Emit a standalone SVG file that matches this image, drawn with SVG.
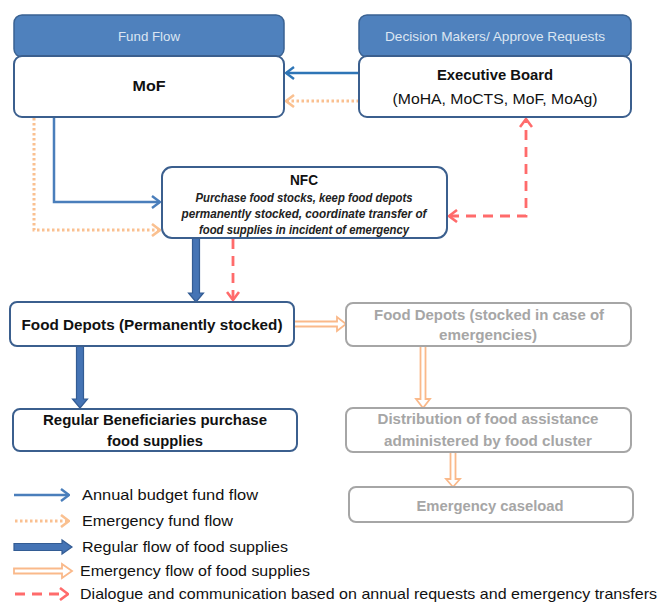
<svg xmlns="http://www.w3.org/2000/svg" width="659" height="602" viewBox="0 0 659 602">
  <style>
    text { font-family: "Liberation Sans", Arial, sans-serif; }
    .hdr { fill: #4F81BD; stroke: #3A6292; stroke-width: 1.5; }
    .hdrt { fill: #DCE6F2; font-size: 13px; text-anchor: middle; }
    .box { fill: #FFFFFF; stroke: #3B5F8E; stroke-width: 2; }
    .gbox { fill: #FFFFFF; stroke: #A6A6A6; stroke-width: 2; }
    .bt { fill: #111111; font-size: 15px; font-weight: bold; text-anchor: middle; }
    .rt { fill: #111111; font-size: 15px; text-anchor: middle; }
    .it { fill: #222222; font-size: 12.5px; font-weight: bold; font-style: italic; text-anchor: middle; }
    .gt { fill: #A6A6A6; font-size: 15px; font-weight: bold; text-anchor: middle; }
    .lt { fill: #111111; font-size: 15px; }
    .blue { fill: none; stroke: #4A7EBB; stroke-width: 2.5; }
    .blue2 { fill: none; stroke: #2E75B6; stroke-width: 2.5; }
    .dot { fill: none; stroke: #FAC090; stroke-width: 3; stroke-dasharray: 2.5 2.5; }
    .dash { fill: none; stroke: #FF6B6B; stroke-width: 2.8; stroke-dasharray: 10 7; }
    .thick { fill: #4574B5; stroke: #335C94; stroke-width: 1.2; }
    .hollow { fill: #FFFFFF; stroke: #FAB98A; stroke-width: 1.8; stroke-linejoin: miter; }
  </style>
  <defs>
    <marker id="chevBlue" viewBox="0 0 10 14" refX="9" refY="7" markerWidth="10" markerHeight="14" markerUnits="userSpaceOnUse" orient="auto">
      <path d="M1,1 L9,7 L1,13" fill="none" stroke="#4A7EBB" stroke-width="2.4"/>
    </marker>
    <marker id="chevBlue2" viewBox="0 0 10 14" refX="9" refY="7" markerWidth="10" markerHeight="14" markerUnits="userSpaceOnUse" orient="auto">
      <path d="M1,1 L9,7 L1,13" fill="none" stroke="#2E75B6" stroke-width="2.4"/>
    </marker>
    <marker id="chevOrange" viewBox="0 0 10 14" refX="9" refY="7" markerWidth="10" markerHeight="14" markerUnits="userSpaceOnUse" orient="auto">
      <path d="M1,1 L9,7 L1,13" fill="none" stroke="#FAC090" stroke-width="2.6"/>
    </marker>
    <marker id="chevRed" viewBox="0 0 10 14" refX="9" refY="7" markerWidth="10" markerHeight="14" markerUnits="userSpaceOnUse" orient="auto-start-reverse">
      <path d="M1,1 L9,7 L1,13" fill="none" stroke="#FF6B6B" stroke-width="2.6"/>
    </marker>
  </defs>

  <!-- connectors -->
  <g id="connectors">
    <path class="blue2" d="M359,73 H286" marker-end="url(#chevBlue2)"/>
    <path class="dot" d="M359,101 H286" marker-end="url(#chevOrange)"/>
    <path class="blue" d="M54,117 V202 H160" marker-end="url(#chevBlue)"/>
    <path class="dot" d="M34,118 V230 H160" marker-end="url(#chevOrange)"/>
    <path class="dash" d="M449,216 H526 V119" marker-start="url(#chevRed)" marker-end="url(#chevRed)"/>
    <path class="dash" d="M233,239 V300" marker-end="url(#chevRed)"/>
    <!-- regular supply flows -->
    <polygon class="thick" points="192.5,238 199.5,238 199.5,293 203.5,293 196,302 188.5,293 192.5,293"/>
    <polygon class="thick" points="76.5,346 83.5,346 83.5,399 87.5,399 80,408 72.5,399 76.5,399"/>
    <!-- emergency supply flows -->
    <polygon class="hollow" points="294,321.5 337,321.5 337,317 346,324 337,331 337,326.5 294,326.5"/>
    <polygon class="hollow" points="420.5,346 425.5,346 425.5,399 430,399 423,408 416,399 420.5,399"/>
    <polygon class="hollow" points="450.5,452 455.5,452 455.5,479 460,479 453,487 446,479 450.5,479"/>
  </g>

  <g id="mof">
    <rect class="hdr" x="14" y="15" width="270" height="42" rx="8"/>
    <text class="hdrt" x="149" y="41" textLength="62" lengthAdjust="spacingAndGlyphs">Fund Flow</text>
    <rect class="box" x="14" y="56" width="270" height="61" rx="8"/>
    <text class="bt" x="149" y="91" textLength="33" lengthAdjust="spacingAndGlyphs">MoF</text>
  </g>

  <g id="executive-board">
    <rect class="hdr" x="359" y="15" width="272" height="42" rx="8"/>
    <text class="hdrt" x="495" y="41" textLength="220" lengthAdjust="spacingAndGlyphs">Decision Makers/ Approve Requests</text>
    <rect class="box" x="359" y="56" width="272" height="61" rx="8"/>
    <text class="bt" x="495" y="80" textLength="116" lengthAdjust="spacingAndGlyphs">Executive Board</text>
    <text class="rt" x="495" y="104" textLength="205" lengthAdjust="spacingAndGlyphs">(MoHA, MoCTS, MoF, MoAg)</text>
  </g>

  <g id="nfc">
    <rect class="box" x="162" y="167" width="285" height="71" rx="10"/>
    <text class="bt" x="304" y="185" textLength="28" lengthAdjust="spacingAndGlyphs">NFC</text>
    <text class="it" x="304" y="202" textLength="217" lengthAdjust="spacingAndGlyphs">Purchase food stocks, keep food depots</text>
    <text class="it" x="304" y="218" textLength="245" lengthAdjust="spacingAndGlyphs">permanently stocked, coordinate transfer of</text>
    <text class="it" x="304" y="234" textLength="210" lengthAdjust="spacingAndGlyphs">food supplies in incident of emergency</text>
  </g>

  <g id="food-depots-permanent">
    <rect class="box" x="10" y="302" width="284" height="44" rx="7"/>
    <text class="bt" x="152" y="330" textLength="261" lengthAdjust="spacingAndGlyphs">Food Depots (Permanently stocked)</text>
  </g>

  <g id="regular-beneficiaries">
    <rect class="box" x="13" y="409" width="284" height="42" rx="7"/>
    <text class="bt" x="155" y="425" textLength="224" lengthAdjust="spacingAndGlyphs">Regular Beneficiaries purchase</text>
    <text class="bt" x="155" y="446" textLength="96" lengthAdjust="spacingAndGlyphs">food supplies</text>
  </g>

  <g id="food-depots-emergency">
    <rect class="gbox" x="346" y="303" width="285" height="43" rx="7"/>
    <text class="gt" x="489" y="320" textLength="230" lengthAdjust="spacingAndGlyphs">Food Depots (stocked in case of</text>
    <text class="gt" x="488" y="340" textLength="98" lengthAdjust="spacingAndGlyphs">emergencies)</text>
  </g>

  <g id="distribution">
    <rect class="gbox" x="346" y="408" width="285" height="44" rx="7"/>
    <text class="gt" x="488" y="424" textLength="221" lengthAdjust="spacingAndGlyphs">Distribution of food assistance</text>
    <text class="gt" x="488" y="446" textLength="208" lengthAdjust="spacingAndGlyphs">administered by food cluster</text>
  </g>

  <g id="emergency-caseload">
    <rect class="gbox" x="349" y="487" width="284" height="35" rx="7"/>
    <text class="gt" x="490" y="511" textLength="147" lengthAdjust="spacingAndGlyphs">Emergency caseload</text>
  </g>

  <!-- legend -->
  <g id="legend">
    <path class="blue" d="M14,495 H69" marker-end="url(#chevBlue)"/>
    <path class="dot" d="M15,521 H69" marker-end="url(#chevOrange)"/>
    <polygon class="thick" points="14,543.5 62,543.5 62,540 72,547 62,554 62,550.5 14,550.5"/>
    <polygon class="hollow" points="14,568.5 62,568.5 62,564 72,571 62,578 62,573.5 14,573.5"/>
    <path class="dash" d="M15,594 H68" marker-end="url(#chevRed)"/>
    <text class="lt" x="82" y="500" textLength="176" lengthAdjust="spacingAndGlyphs">Annual budget fund flow</text>
    <text class="lt" x="82" y="526" textLength="151" lengthAdjust="spacingAndGlyphs">Emergency fund flow</text>
    <text class="lt" x="82" y="552" textLength="206" lengthAdjust="spacingAndGlyphs">Regular flow of food supplies</text>
    <text class="lt" x="80" y="576" textLength="230" lengthAdjust="spacingAndGlyphs">Emergency flow of food supplies</text>
    <text class="lt" x="80" y="599" textLength="577" lengthAdjust="spacingAndGlyphs">Dialogue and communication based on annual requests and emergency transfers</text>
  </g>
</svg>
